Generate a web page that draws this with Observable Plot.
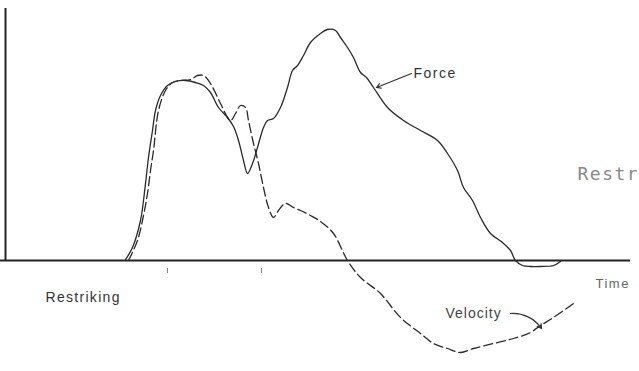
<!DOCTYPE html>
<html>
<head>
<meta charset="utf-8">
<script src="https://cdn.jsdelivr.net/npm/d3@7"></script>
<script src="https://cdn.jsdelivr.net/npm/@observablehq/plot@0.6"></script>
<style>
  html, body { margin: 0; padding: 0; background: #fff; }
  #chart { width: 639px; height: 371px; overflow: hidden; }
</style>
</head>
<body>
<div id="chart"></div>
<script>
// Time (arbitrary units) and values (arbitrary units, 0 = time axis)
const forceTime = [120,127,135,140,143,147,150,155,162,170,180,190,198,205,213,222,228,233,238,242,247,252,258,262,268,275,282,287,292,298,305,315,322,330,335,342,348,355,361,368,382,398,415,432,442,452,458,467,475,485,497,505,510,517,525,535,548,555];
const forceValue = [1,13,40,77,103,130,150,165,175,179,180,178,175,168,153,143,134,120,100,87,97,113,133,140,142,153,173,190,195,205,218,227,231,230,223,213,203,188,183,173,153,140,130,120,107,90,73,60,43,27,18,10,0,-5,-6,-6,-5,-1];

const velocityTime = [123,132,138,142,145,148,153,160,167,175,185,192,198,205,215,225,230,235,240,243,248,253,258,263,268,273,280,288,295,305,315,328,342,355,375,395,415,428,442,455,468,488,508,525,535,548,568];
const velocityValue = [0,20,45,67,90,110,150,170,178,180,181,185,185,177,157,140,147,155,153,140,117,97,73,53,43,50,57,53,50,45,39,27,0,-17,-33,-57,-73,-83,-88,-92,-88,-83,-78,-72,-65,-57,-43];

const tickTimes = [162, 256];
const labels = ["Force", "Velocity", "Time", "Restriking", "Restr"];

const force = forceTime.map((t, i) => ({t, v: forceValue[i]}));
const velocity = velocityTime.map((t, i) => ({t, v: velocityValue[i]}));

const sans = "Liberation Sans, Arial, sans-serif";

const chart = Plot.plot({
  width: 639,
  height: 371,
  margin: 0,
  style: {background: "#fff"},
  x: {domain: [-5, 634], range: [0, 639], axis: null},
  y: {domain: [-111, 260], range: [371, 0], axis: null},
  marks: [
    // axes
    Plot.ruleX([0], {y1: 0, y2: 252, stroke: "#222", strokeWidth: 2}),
    Plot.ruleY([0], {x1: -5, x2: 625, stroke: "#222", strokeWidth: 2}),
    Plot.ruleX(tickTimes, {y1: -8, y2: -13, stroke: "#888", strokeWidth: 1}),
    // series
    Plot.line(force, {x: "t", y: "v", stroke: "#2a2a2a", strokeWidth: 1.3, curve: "catmull-rom"}),
    Plot.line(velocity, {x: "t", y: "v", stroke: "#2a2a2a", strokeWidth: 1.3, strokeDasharray: "9,4", curve: "catmull-rom"}),
    // annotations
    Plot.text([labels[0]], {x: 408, y: 187, text: d => d, textAnchor: "start", fontSize: 14, fill: "#333", fontFamily: sans}),
    Plot.arrow([0], {x1: 406, y1: 187, x2: 371, y2: 173, stroke: "#333", strokeWidth: 1.2, headLength: 6}),
    Plot.text([labels[1]], {x: 440, y: -53, text: d => d, textAnchor: "start", fontSize: 14, fill: "#444", fontFamily: sans}),
    Plot.arrow([0], {x1: 505, y1: -53, x2: 536, y2: -68, bend: 30, stroke: "#333", strokeWidth: 1.2, headLength: 6}),
    Plot.text([labels[2]], {x: 590, y: -23, text: d => d, textAnchor: "start", fontSize: 13, fill: "#666", fontFamily: sans}),
    Plot.text([labels[3]], {x: 40, y: -37, text: d => d, textAnchor: "start", fontSize: 14, fill: "#333", fontFamily: sans}),
    Plot.text([labels[4]], {x: 572, y: 86, text: d => d, textAnchor: "start", fontSize: 18, fill: "#888", fontFamily: "DejaVu Sans Mono, monospace"})
  ]
});
const spacing = {"Force": 1.5, "Velocity": 1, "Time": 1.5, "Restriking": 1.3, "Restr": 1.5};
d3.select(chart).selectAll("text").each(function() {
  const s = spacing[this.textContent];
  if (s != null) this.setAttribute("letter-spacing", s);
});
document.getElementById("chart").append(chart);
</script>
</body>
</html>
